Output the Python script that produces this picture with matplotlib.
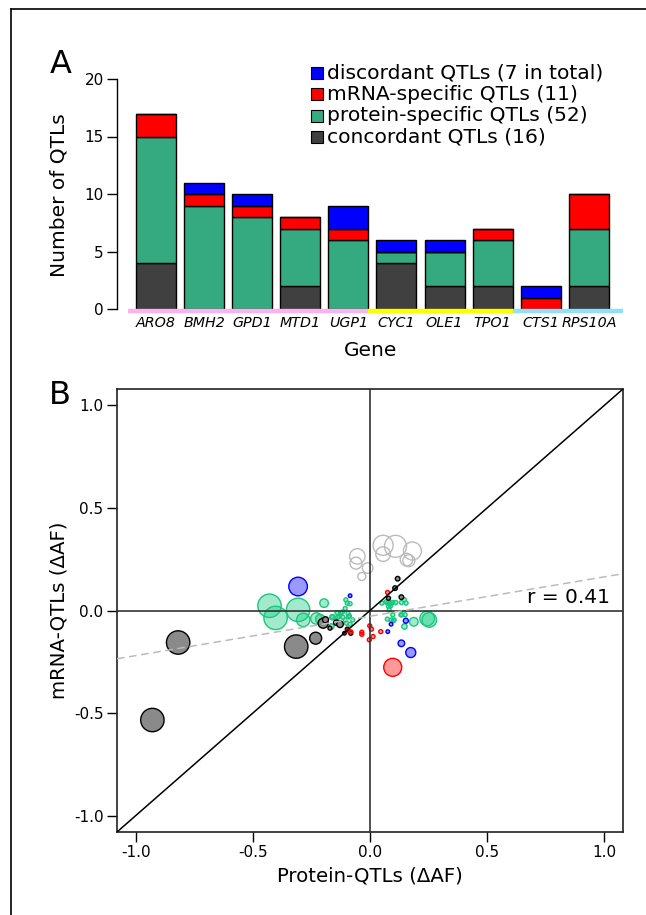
import numpy as np
import matplotlib
matplotlib.use("Agg")
import matplotlib.pyplot as plt
from matplotlib.lines import Line2D
from matplotlib.patches import Rectangle

plt.rcParams["font.family"] = "DejaVu Sans"
plt.rcParams["axes.unicode_minus"] = False

# ---- panel A: number of QTLs per gene ----
genes = ["ARO8", "BMH2", "GPD1", "MTD1", "UGP1", "CYC1", "OLE1", "TPO1", "CTS1", "RPS10A"]
gene_group = [0, 0, 0, 0, 0, 1, 1, 1, 2, 2]
concordant = [4, 0, 0, 2, 0, 4, 2, 2, 0, 2]
protein_specific = [11, 9, 8, 5, 6, 1, 3, 4, 0, 5]
mrna_specific = [2, 1, 1, 1, 1, 0, 0, 1, 1, 3]
discordant = [0, 1, 1, 0, 2, 1, 1, 0, 1, 0]

# ---- panel B: effect sizes (delta allele frequency), bubble radius ----
conc_x = [-0.929, -0.819, -0.315, -0.232, -0.200, -0.190, -0.171, -0.144, -0.128, -0.109,
          -0.097, -0.082, 0.079, 0.107, 0.118, 0.134]
conc_y = [-0.534, -0.156, -0.176, -0.135, -0.062, -0.045, -0.086, -0.059, -0.067, -0.111,
          -0.091, -0.111, 0.060, 0.109, 0.155, 0.065]
conc_r = [11.7, 11.7, 11.7, 6.0, 5.0, 3.0, 2.0, 2.7, 3.3, 1.8, 2.0, 2.0, 2.0, 2.3, 2.3, 2.3]

prot_x = [-0.429, -0.403, -0.307, -0.285, -0.196, -0.229, -0.212, -0.165, -0.160, 0.244,
          0.253, 0.187, 0.147,
          -0.103, -0.097, -0.085, -0.106, -0.124, -0.141, -0.094, -0.116, -0.106, -0.088,
          -0.100, -0.085, -0.138, -0.162, -0.132, -0.074, -0.091, -0.118,
          0.075, 0.085, 0.097, 0.079, 0.090, 0.134, 0.147, 0.135, 0.150, 0.097, 0.091,
          0.074, 0.100, 0.068, 0.082, 0.051, 0.110, 0.154, 0.103, 0.132, 0.088]
prot_y = [0.023, -0.036, 0.003, -0.046, 0.036, -0.039, -0.042, -0.078, -0.033, -0.039,
          -0.046, -0.055, -0.078,
          0.052, 0.036, 0.033, 0.010, -0.010, -0.010, -0.013, -0.033, -0.046, -0.026,
          -0.062, -0.067, -0.033, -0.030, -0.030, -0.046, -0.030, -0.008,
          0.036, 0.039, 0.039, 0.020, 0.033, 0.039, 0.052, -0.021, -0.021, -0.021, -0.046,
          -0.042, -0.049, 0.042, 0.003, 0.036, 0.039, 0.036, -0.046, -0.021, 0.023]
prot_r = [11.7, 11.7, 11.7, 6.7, 4.3, 5.7, 4.7, 2.7, 2.7, 7.3, 7.3, 4.3, 2.7] + [2.0] * 39

mrna_x = [0.097, 0.075, -0.035, -0.035, -0.001, 0.006, 0.046, 0.013, -0.003, -0.094, -0.082]
mrna_y = [-0.277, 0.088, -0.106, -0.116, -0.075, -0.091, -0.103, -0.127, -0.143, -0.098, -0.104]
mrna_r = [9.0, 2.0, 2.0, 2.0, 2.0, 2.0, 2.0, 2.0, 2.0, 2.0, 2.0]

disc_x = [-0.307, -0.085, 0.153, 0.090, 0.076, 0.134, 0.174]
disc_y = [0.117, 0.072, -0.050, -0.067, -0.103, -0.160, -0.205]
disc_r = [9.3, 1.8, 2.5, 1.8, 1.8, 3.3, 5.0]

other_x = [0.056, 0.109, 0.181, 0.056, -0.054, -0.060, 0.156, 0.166, -0.010, -0.035]
other_y = [0.318, 0.313, 0.290, 0.275, 0.264, 0.231, 0.248, 0.243, 0.207, 0.166]
other_r = [10.0, 11.0, 9.0, 7.3, 7.7, 6.0, 6.3, 6.0, 5.3, 4.0]

fit_slope, fit_intercept, fit_r = 0.192, -0.028, 0.41

W, H, DPI = 646, 915, 100


def fx(px):
    return px / W


def fy(py):
    return 1 - py / H


def msize(r):
    # radius in pixels -> scatter area in points^2
    return (2 * np.asarray(r) * 72 / DPI) ** 2


def main():
    fig = plt.figure(figsize=(W / DPI, H / DPI), dpi=DPI)

    # frame lines along top and left edge
    fig.add_artist(Line2D([fx(11), 1], [fy(9), fy(9)], color="black", lw=1.2))
    fig.add_artist(Line2D([fx(11), fx(11)], [fy(9), 0], color="black", lw=1.2))

    # ---------------- panel A ----------------
    c_conc, c_prot, c_mrna, c_disc = "#404040", "#35A97F", "#FF0000", "#0000FF"
    axA = fig.add_axes([fx(117), fy(309), (624 - 117) / W, (309 - 79) / H])
    idx = np.arange(len(genes))
    bottom = np.zeros(len(genes))
    for vals, col in [(concordant, c_conc), (protein_specific, c_prot),
                      (mrna_specific, c_mrna), (discordant, c_disc)]:
        axA.bar(idx, vals, bottom=bottom, width=0.832, color=col,
                edgecolor="black", linewidth=1.0)
        bottom += np.array(vals)

    group_cols = ["#F8B4F0", "#FFFF00", "#90E0F8"]
    for g, col in enumerate(group_cols):
        members = [i for i, gg in enumerate(gene_group) if gg == g]
        x0 = members[0] - 0.583
        x1 = members[-1] + 0.417
        if g == len(group_cols) - 1:
            x1 += 0.3
        axA.plot([x0, x1], [-0.17, -0.17], color=col, lw=3.2,
                 solid_capstyle="butt", clip_on=False)

    axA.set_xlim(-0.81, 9.73)
    axA.set_ylim(0, 20)
    axA.set_yticks([0, 5, 10, 15, 20])
    axA.set_xticks(idx)
    axA.set_xticklabels(genes, fontstyle="italic", fontsize=10.3)
    axA.tick_params(axis="x", length=0, pad=5)
    axA.tick_params(axis="y", length=7.5, width=1.0, labelsize=11, pad=2)
    for s in ["top", "right", "bottom"]:
        axA.spines[s].set_visible(False)
    axA.spines["left"].set_linewidth(1.0)
    fig.text(fx(59), fy(195), "Number of QTLs", rotation=90, ha="center",
             va="center", fontsize=14.5)
    fig.text(fx(371), fy(350), "Gene", ha="center", va="center", fontsize=14.5)

    legend_rows = [
        (c_disc, f"discordant QTLs ({sum(discordant)} in total)"),
        (c_mrna, f"mRNA-specific QTLs ({sum(mrna_specific)})"),
        (c_prot, f"protein-specific QTLs ({sum(protein_specific)})"),
        (c_conc, f"concordant QTLs ({sum(concordant)})"),
    ]
    for k, (col, lab) in enumerate(legend_rows):
        yc = 73 + 21.3 * k
        fig.add_artist(Rectangle((fx(311), fy(yc + 6)), 12 / W, 12 / H,
                                 facecolor=col, edgecolor="black", lw=0.8))
        fig.text(fx(327), fy(yc), lab, ha="left", va="center", fontsize=14.6)

    fig.text(fx(50), fy(73), "A", fontsize=23, ha="left", va="baseline")

    # ---------------- panel B ----------------
    axB = fig.add_axes([fx(117), fy(832), (623 - 117) / W, (832 - 389) / H])
    lim = 1.08
    axB.scatter(other_x, other_y, s=msize(other_r), facecolor="none",
                edgecolor="#BBBBBB", linewidths=1.0, zorder=2)
    axB.scatter(prot_x, prot_y, s=msize(prot_r), facecolor=(0.1, 0.8, 0.5, 0.4),
                edgecolor=(0.1, 0.78, 0.5), linewidths=1.0, zorder=3)
    axB.scatter(conc_x, conc_y, s=msize(conc_r), facecolor="#8A8A8A",
                edgecolor="black", linewidths=1.0, zorder=4)
    axB.scatter(mrna_x, mrna_y, s=msize(mrna_r), facecolor=(1, 0, 0, 0.4),
                edgecolor="red", linewidths=1.0, zorder=4)
    axB.scatter(disc_x, disc_y, s=msize(disc_r), facecolor=(0, 0, 1, 0.4),
                edgecolor="blue", linewidths=1.0, zorder=4)

    axB.axhline(0, color="#333333", lw=1.2, zorder=5)
    axB.axvline(0, color="#333333", lw=1.2, zorder=5)
    axB.plot([-lim, lim], [-lim, lim], color="black", lw=1.1, zorder=5)
    xx = np.array([-lim, lim])
    axB.plot(xx, fit_intercept + fit_slope * xx, color="#BBBBBB", lw=1.1,
             ls=(0, (5, 3)), zorder=5)
    axB.text(1.026, 0.062, f"r = {fit_r:.2f}", ha="right", va="center", fontsize=14.5)

    axB.set_xlim(-lim, lim)
    axB.set_ylim(-lim, lim)
    ticks = [-1.0, -0.5, 0.0, 0.5, 1.0]
    axB.set_xticks(ticks)
    axB.set_yticks(ticks)
    axB.set_xticklabels([f"{t:.1f}" for t in ticks])
    axB.set_yticklabels([f"{t:.1f}" for t in ticks])
    axB.tick_params(length=7.2, width=1.0, labelsize=11, pad=2.5)
    for s in axB.spines.values():
        s.set_linewidth(1.2)
        s.set_color("#222222")
    axB.set_xlabel("Protein-QTLs (ΔAF)", fontsize=14.2, labelpad=4)
    axB.set_ylabel("mRNA-QTLs (ΔAF)", fontsize=14.2, labelpad=4)

    fig.text(fx(49), fy(404), "B", fontsize=23, ha="left", va="baseline")

    fig.savefig("out.png", dpi=DPI)
    plt.close(fig)


if __name__ == "__main__":
    main()
